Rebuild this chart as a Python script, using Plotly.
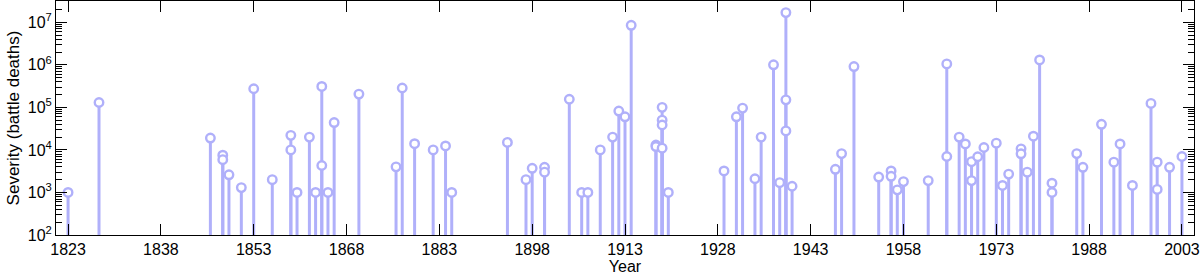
import plotly.graph_objects as go

years = [1823, 1828, 1846, 1848, 1848, 1849, 1851, 1853, 1856, 1859, 1859, 1860,
         1862, 1863, 1864, 1864, 1865, 1866, 1870, 1876, 1877, 1879, 1882, 1884,
         1885, 1894, 1897, 1898, 1900, 1900, 1904, 1906, 1907, 1909, 1911, 1912,
         1913, 1914, 1918, 1918, 1919, 1919, 1919, 1919, 1920, 1929, 1931, 1932,
         1934, 1935, 1937, 1938, 1939, 1939, 1939, 1940, 1947, 1948, 1950, 1954,
         1956, 1956, 1957, 1958, 1962, 1965, 1965, 1967, 1968, 1969, 1969, 1970,
         1971, 1973, 1974, 1975, 1977, 1977, 1978, 1979, 1980, 1982, 1982, 1986,
         1987, 1990, 1992, 1993, 1995, 1998, 1999, 1999, 2001, 2003]
deaths = [1000, 130000, 19000, 7500, 5900, 2600, 1300, 274000, 2000, 22000, 10000, 1000,
          20000, 1000, 310000, 4300, 1000, 44000, 205000, 4000, 285000, 14000, 10000, 12400,
          1000, 15000, 2000, 3700, 3900, 3000, 155000, 1000, 1000, 10000, 20000, 82000,
          60000, 8500000, 13000, 12000, 100000, 50000, 38500, 11000, 1000, 3200, 60000, 96000,
          2100, 20000, 1000000, 1700, 16900000, 150000, 28000, 1400, 3500, 8200, 910000, 2300,
          3200, 2400, 1150, 1800, 1900, 1050000, 7000, 20000, 13800, 5300, 1900, 6900,
          11400, 14400, 1460, 2700, 10600, 8100, 3000, 21000, 1300000, 1650, 1000, 8200,
          3900, 40000, 5150, 13800, 1460, 124000, 5150, 1180, 3900, 7000]

y_tickvals = [1e2, 1e3, 1e4, 1e5, 1e6, 1e7]
y_ticktext = ["10<sup>2</sup>", "10<sup>3</sup>", "10<sup>4</sup>", "10<sup>5</sup>",
              "10<sup>6</sup>", "10<sup>7</sup>"]
x_tickvals = [1823, 1838, 1853, 1868, 1883, 1898, 1913, 1928, 1943, 1958, 1973, 1988, 2003]

color = "rgb(176,176,250)"
base = 100

stem_x, stem_y = [], []
for yr, d in zip(years, deaths):
    stem_x += [yr, yr, None]
    stem_y += [base, d, None]

fig = go.Figure()
fig.add_trace(go.Scatter(x=stem_x, y=stem_y, mode="lines",
                         line=dict(color=color, width=3), hoverinfo="skip",
                         showlegend=False))
fig.add_trace(go.Scatter(x=years, y=deaths, mode="markers",
                         marker=dict(symbol="circle", size=8.5, color="white",
                                     line=dict(color=color, width=2.4)),
                         showlegend=False))

font = dict(family="Liberation Sans, Arial, sans-serif", size=16, color="black")
title_font = dict(family="Liberation Sans, Arial, sans-serif", size=17, color="black")

fig.update_layout(
    width=1200, height=277,
    margin=dict(l=56, r=6, t=1, b=42),
    paper_bgcolor="white", plot_bgcolor="white",
    font=font,
    xaxis=dict(range=[1821.05, 2004.95], tickvals=x_tickvals,
               ticks="inside", ticklen=11, tickwidth=1, tickcolor="black",
               showline=True, linecolor="black", linewidth=1, mirror="ticks",
               showgrid=False, zeroline=False, tickfont=font,
               title=dict(text="Year", font=font, standoff=1)),
    yaxis=dict(type="log", range=[2, 7.5], tickvals=y_tickvals, ticktext=y_ticktext,
               ticks="inside", ticklen=11, tickwidth=1, tickcolor="black",
               minor=dict(ticks="inside", ticklen=6, tickcolor="black", dtick="D1",
                          showgrid=False),
               showline=True, linecolor="black", linewidth=1, mirror="ticks",
               showgrid=False, zeroline=False, tickfont=font,
               title=dict(text="Severity (battle deaths)", font=title_font, standoff=3)),
)

fig.write_html("out.html")
